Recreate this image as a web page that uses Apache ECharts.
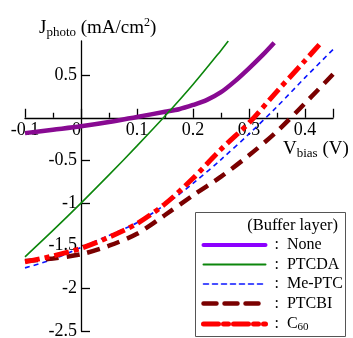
<!DOCTYPE html>
<html>
<head>
<meta charset="utf-8">
<script src="https://cdn.jsdelivr.net/npm/echarts@6/dist/echarts.min.js"></script>
<style>
html, body { margin: 0; padding: 0; background: #fff; }
#chart { width: 353px; height: 338px; }
</style>
</head>
<body>
<div id="chart"></div>
<script>
// data (V in volts, J in mA/cm2)
const vNone = [-0.1, -0.05, 0, 0.05, 0.1, 0.15, 0.175, 0.2, 0.225, 0.25, 0.275, 0.3, 0.325, 0.345];
const jNone = [-0.18, -0.14, -0.10, -0.05, 0.01, 0.07, 0.10, 0.15, 0.21, 0.30, 0.43, 0.58, 0.74, 0.88];

const vPTCDA = [-0.1, -0.05, 0, 0.05, 0.1, 0.15, 0.2, 0.25, 0.263];
const jPTCDA = [-1.63, -1.32, -1.0, -0.67, -0.33, 0.02, 0.39, 0.79, 0.9];

const vMePTC = [-0.1, -0.05, 0, 0.05, 0.1, 0.15, 0.2, 0.25, 0.3, 0.35, 0.4, 0.45];
const jMePTC = [-1.76, -1.66, -1.52, -1.38, -1.23, -1.02, -0.77, -0.49, -0.19, 0.13, 0.47, 0.80];

const vPTCBI = [-0.1, -0.05, 0, 0.05, 0.1, 0.15, 0.2, 0.25, 0.3, 0.35, 0.4, 0.45];
const jPTCBI = [-1.68, -1.65, -1.60, -1.50, -1.36, -1.14, -0.91, -0.69, -0.44, -0.16, 0.17, 0.51];

const vC60 = [-0.1, -0.05, 0, 0.05, 0.1, 0.15, 0.2, 0.25, 0.3, 0.35, 0.4, 0.43];
const jC60 = [-1.69, -1.62, -1.53, -1.40, -1.24, -1.01, -0.71, -0.37, -0.06, 0.31, 0.67, 0.89];

const xMajorTicks = [-0.1, 0, 0.1, 0.2, 0.3, 0.4, 0.45];
const xMinorTicks = [-0.05, 0.05, 0.15, 0.25, 0.35];
const xLabels = [-0.1, 0, 0.1, 0.2, 0.3, 0.4];
const yTicks = [-2.5, -2, -1.5, -1, -0.5, 0.5];

const font = 'Liberation Serif';

// plot box, axes cross at (0, 0)
const gridLeft = 25, gridRight = 20, gridTop = 41, gridBottom = 7;
const xMin = -0.1, xMax = 0.45, yMin = -2.5, yMax = 0.9;
const plotW = 353 - gridLeft - gridRight;
const plotH = 338 - gridTop - gridBottom;
const xAxisShift = -plotH * (0 - yMin) / (yMax - yMin);
const yAxisShift = -plotW * (0 - xMin) / (xMax - xMin);

function pairs(xs, ys) {
    return xs.map((x, i) => [x, ys[i]]);
}

const chart = echarts.init(document.getElementById('chart'));

const option = {
    animation: false,
    grid: {
        left: gridLeft,
        right: gridRight,
        top: gridTop,
        bottom: gridBottom,
        outerBoundsMode: 'none'
    },
    xAxis: [
        {
            type: 'value',
            min: xMin,
            max: xMax,
            interval: 0.1,
            position: 'bottom',
            offset: xAxisShift,
            axisLine: { onZero: false, lineStyle: { color: '#000', width: 1.3 } },
            axisTick: { inside: true, length: 9, customValues: xMajorTicks, lineStyle: { color: '#000', width: 1.3 } },
            axisLabel: {
                customValues: xLabels,
                margin: 4,
                color: '#000',
                fontFamily: font,
                fontSize: 18,
                formatter: function (v) {
                    return v === 0 ? '0  ' : String(v);
                }
            },
            splitLine: { show: false }
        },
        {
            // minor ticks only
            type: 'value',
            min: xMin,
            max: xMax,
            interval: 0.1,
            position: 'bottom',
            offset: xAxisShift,
            axisLine: { show: false, onZero: false },
            axisTick: { inside: true, length: 5, customValues: xMinorTicks, lineStyle: { color: '#000', width: 1.3 } },
            axisLabel: { show: false },
            splitLine: { show: false }
        }
    ],
    yAxis: {
        type: 'value',
        min: yMin,
        max: yMax,
        interval: 0.5,
        position: 'left',
        offset: yAxisShift,
        axisLine: { show: true, onZero: false, lineStyle: { color: '#000', width: 1.3 } },
        axisTick: { show: true, inside: true, length: 9, customValues: yTicks, lineStyle: { color: '#000', width: 1.3 } },
        axisLabel: {
            customValues: yTicks,
            margin: 4,
            color: '#000',
            fontFamily: font,
            fontSize: 18
        },
        splitLine: { show: false }
    },
    legend: {
        orient: 'vertical',
        left: 201,
        top: 237,
        padding: 0,
        z: 20,
        itemWidth: 62,
        itemHeight: 12,
        itemGap: 3.5,
        selectedMode: false,
        itemStyle: { opacity: 0 },
        lineStyle: { width: 'inherit', cap: 'round' },
        data: [
            { name: 'None', lineStyle: { color: '#8c00ff', width: 4 } },
            { name: 'PTCDA', lineStyle: { width: 2 } },
            'Me-PTC',
            'PTCBI',
            'C60'
        ],
        formatter: function (name) {
            return name === 'C60' ? ' :  C{sub|60}' : ' :  ' + name;
        },
        textStyle: {
            color: '#000',
            fontFamily: font,
            fontSize: 16,
            lineHeight: 16,
            rich: {
                sub: { fontFamily: font, fontSize: 11, color: '#000', verticalAlign: 'bottom', lineHeight: 18 }
            }
        }
    },
    graphic: [
        {
            type: 'rect',
            shape: { x: 195.5, y: 212.5, width: 150, height: 124 },
            style: { fill: '#fff', stroke: '#555', lineWidth: 1 },
            z: 5
        },
        {
            type: 'text',
            x: 338,
            y: 226,
            style: {
                text: '(Buffer layer)',
                fontFamily: font,
                fontSize: 16.5,
                fill: '#000',
                align: 'right',
                verticalAlign: 'middle'
            },
            z: 21
        },
        {
            type: 'text',
            x: 39,
            y: 28,
            style: {
                text: '{m|J}{s|photo}{m| (mA/cm}{p|2}{m|)}',
                fill: '#000',
                verticalAlign: 'middle',
                rich: {
                    m: { fontFamily: font, fontSize: 19, lineHeight: 22, fill: '#000' },
                    s: { fontFamily: font, fontSize: 13, lineHeight: 22, verticalAlign: 'bottom', fill: '#000' },
                    p: { fontFamily: font, fontSize: 12, lineHeight: 22, verticalAlign: 'top', fill: '#000' }
                }
            }
        },
        {
            type: 'text',
            x: 283,
            y: 149,
            style: {
                text: '{m|V}{s|bias}{m| (V)}',
                fill: '#000',
                verticalAlign: 'middle',
                rich: {
                    m: { fontFamily: font, fontSize: 19, lineHeight: 22, fill: '#000' },
                    s: { fontFamily: font, fontSize: 13, lineHeight: 22, verticalAlign: 'bottom', fill: '#000' }
                }
            }
        }
    ],
    series: [
        {
            name: 'None',
            type: 'line',
            smooth: 0.3,
            symbol: 'none',
            data: pairs(vNone, jNone),
            lineStyle: { color: '#880a92', width: 4.5 },
            itemStyle: { color: '#880a92' }
        },
        {
            name: 'PTCDA',
            type: 'line',
            smooth: 0.3,
            symbol: 'none',
            data: pairs(vPTCDA, jPTCDA),
            lineStyle: { color: '#0c860c', width: 1.6 },
            itemStyle: { color: '#0c860c' }
        },
        {
            name: 'Me-PTC',
            type: 'line',
            smooth: 0.3,
            symbol: 'none',
            data: pairs(vMePTC, jMePTC),
            lineStyle: { color: '#0a14ff', width: 1.6, type: [5, 4] },
            itemStyle: { color: '#0a14ff' }
        },
        {
            name: 'PTCBI',
            type: 'line',
            smooth: 0.3,
            symbol: 'none',
            data: pairs(vPTCBI, jPTCBI),
            lineStyle: { color: '#7a0000', width: 4.5, type: [13, 8] },
            itemStyle: { color: '#7a0000' }
        },
        {
            name: 'C60',
            type: 'line',
            smooth: 0.3,
            symbol: 'none',
            data: pairs(vC60, jC60),
            lineStyle: { color: '#ff0000', width: 5, type: [15, 5, 5, 5] },
            itemStyle: { color: '#ff0000' }
        }
    ]
};

chart.setOption(option);
window.addEventListener('resize', function () {
    chart.resize();
});
</script>
</body>
</html>
